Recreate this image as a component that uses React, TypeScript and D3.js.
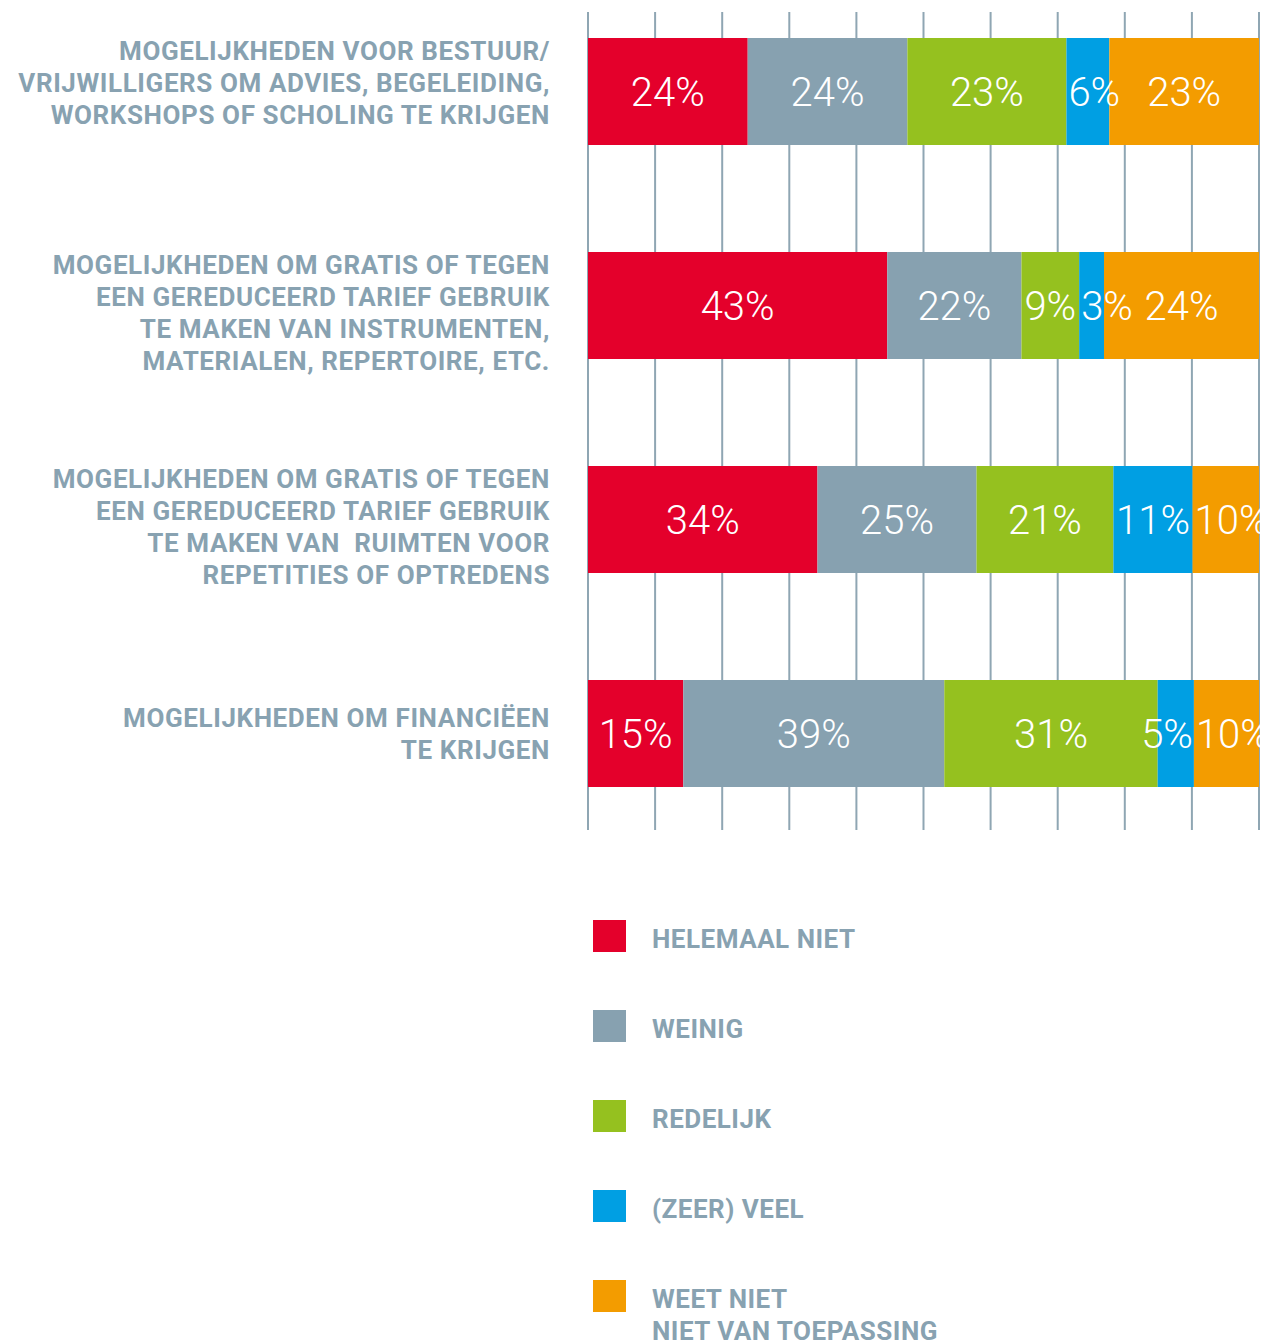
import React from "react";
import * as d3 from "d3";

const categories: string[][] = [
  ["MOGELIJKHEDEN VOOR BESTUUR/", "VRIJWILLIGERS OM ADVIES, BEGELEIDING,", "WORKSHOPS OF SCHOLING TE KRIJGEN"],
  ["MOGELIJKHEDEN OM GRATIS OF TEGEN", "EEN GEREDUCEERD TARIEF GEBRUIK", "TE MAKEN VAN INSTRUMENTEN,", "MATERIALEN, REPERTOIRE, ETC."],
  ["MOGELIJKHEDEN OM GRATIS OF TEGEN", "EEN GEREDUCEERD TARIEF GEBRUIK", "TE MAKEN VAN  RUIMTEN VOOR", "REPETITIES OF OPTREDENS"],
  ["MOGELIJKHEDEN OM FINANCIËEN", "TE KRIJGEN"],
];

const seriesNames: string[][] = [
  ["HELEMAAL NIET"],
  ["WEINIG"],
  ["REDELIJK"],
  ["(ZEER) VEEL"],
  ["WEET NIET", "NIET VAN TOEPASSING"],
];

const seriesColors = ["#e4002b", "#87a1b0", "#95c11f", "#009fe3", "#f39c00"];

// segment widths (percent of bar)
const helemaalNiet = [23.8, 44.6, 34.2, 14.2];
const weinig = [23.8, 20.0, 23.7, 38.9];
const redelijk = [23.7, 8.6, 20.4, 31.8];
const zeerVeel = [6.4, 3.7, 11.8, 5.4];
const weetNiet = [22.3, 23.1, 9.9, 9.7];

// printed labels
const labelsHelemaalNiet = ["24%", "43%", "34%", "15%"];
const labelsWeinig = ["24%", "22%", "25%", "39%"];
const labelsRedelijk = ["23%", "9%", "21%", "31%"];
const labelsZeerVeel = ["6%", "3%", "11%", "5%"];
const labelsWeetNiet = ["23%", "24%", "10%", "10%"];

const gridTicks = d3.range(0, 101, 10);

const W = 1261;
const H = 1341;
const TEXT_GRAY = "#88a2b1";
const FONT = "Roboto, 'DejaVu Sans', sans-serif";

const estWidth = (s: string) => {
  let w = 0;
  for (const ch of s) w += ch === "%" ? 29 : 22.5;
  return w;
};

export default function App() {
  const series = [helemaalNiet, weinig, redelijk, zeerVeel, weetNiet];
  const labels = [labelsHelemaalNiet, labelsWeinig, labelsRedelijk, labelsZeerVeel, labelsWeetNiet];
  const rows = categories.map((c, i) => {
    const obj: any = { key: String(i) };
    series.forEach((s, j) => (obj["s" + j] = s[i]));
    return obj;
  });
  const keys = series.map((_, j) => "s" + j);
  const stacked = d3.stack().keys(keys)(rows);

  const x = d3.scaleLinear().domain([0, 100]).range([588, 1259]);
  const y = d3
    .scaleBand<string>()
    .domain(rows.map((r) => r.key))
    .range([38, 787])
    .paddingInner(0.5)
    .paddingOuter(0);

  const legendY = d3.scalePoint<number>().domain(d3.range(5)).range([920, 1280]);

  const fits = (j: number, i: number) => {
    if (j >= stacked.length) return true;
    const d = stacked[j][i];
    return estWidth(labels[j][i]) <= x(d[1]) - x(d[0]) - 4;
  };

  return (
    <svg
      width={W}
      height={H}
      style={{ position: "absolute", left: 0, top: 0, background: "#fff" }}
    >
      {gridTicks.map((t) => (
        <line
          key={t}
          x1={x(t)}
          x2={x(t)}
          y1={12}
          y2={830}
          stroke="#8fa6b3"
          strokeWidth={2}
        />
      ))}
      {stacked.map((layer, j) => (
        <g key={j}>
          {layer.map((d, i) => (
            <rect
              key={i}
              x={x(d[0])}
              y={y(String(i))}
              width={x(d[1]) - x(d[0])}
              height={y.bandwidth()}
              fill={seriesColors[j]}
            />
          ))}
        </g>
      ))}
      {stacked.map((layer, j) => (
        <g key={"l" + j}>
          {layer.map((d, i) => {
            let anchor = "middle";
            let lx = (x(d[0]) + x(d[1])) / 2;
            if (!fits(j, i)) {
              if (j < stacked.length - 1 && !fits(j + 1, i)) {
                anchor = "end";
                lx = x(d[1]) - 1;
              } else {
                anchor = "start";
                lx = x(d[0]) + 2;
              }
            }
            return (
              <text
                key={i}
                x={lx}
                y={(y(String(i)) as number) + y.bandwidth() / 2}
                dy="0.36em"
                textAnchor={anchor}
                fill="#fff"
                fontFamily={FONT}
                fontWeight={300}
                fontSize={40}
              >
                {labels[j][i]}
              </text>
            );
          })}
        </g>
      ))}
      {categories.map((lines, i) => {
        const bandTop = y(String(i)) as number;
        const cy = bandTop + y.bandwidth() / 2;
        const lh = 32;
        const top = lines.length >= 3 ? bandTop + 13 : cy - ((lines.length - 1) * lh) / 2;
        return (
          <text
            key={"c" + i}
            textAnchor="end"
            fill={TEXT_GRAY}
            fontFamily={FONT}
            fontWeight={700}
            fontSize={26}
            letterSpacing={0.6}
          >
            {lines.map((ln, k) => (
              <tspan key={k} x={550} y={top + k * lh} dy="0.36em" style={{ whiteSpace: "pre" }}>
                {ln}
              </tspan>
            ))}
          </text>
        );
      })}
      {seriesNames.map((names, j) => {
        const sy = legendY(j) as number;
        return (
          <g key={"lg" + j}>
            <rect x={593} y={sy} width={33} height={32} fill={seriesColors[j]} />
            <text
              fill={TEXT_GRAY}
              fontFamily={FONT}
              fontWeight={700}
              fontSize={26}
              letterSpacing={0.5}
            >
              {names.map((n, k) => (
                <tspan key={k} x={652} y={sy + 19 + k * 32} dy="0.36em">
                  {n}
                </tspan>
              ))}
            </text>
          </g>
        );
      })}
    </svg>
  );
}
